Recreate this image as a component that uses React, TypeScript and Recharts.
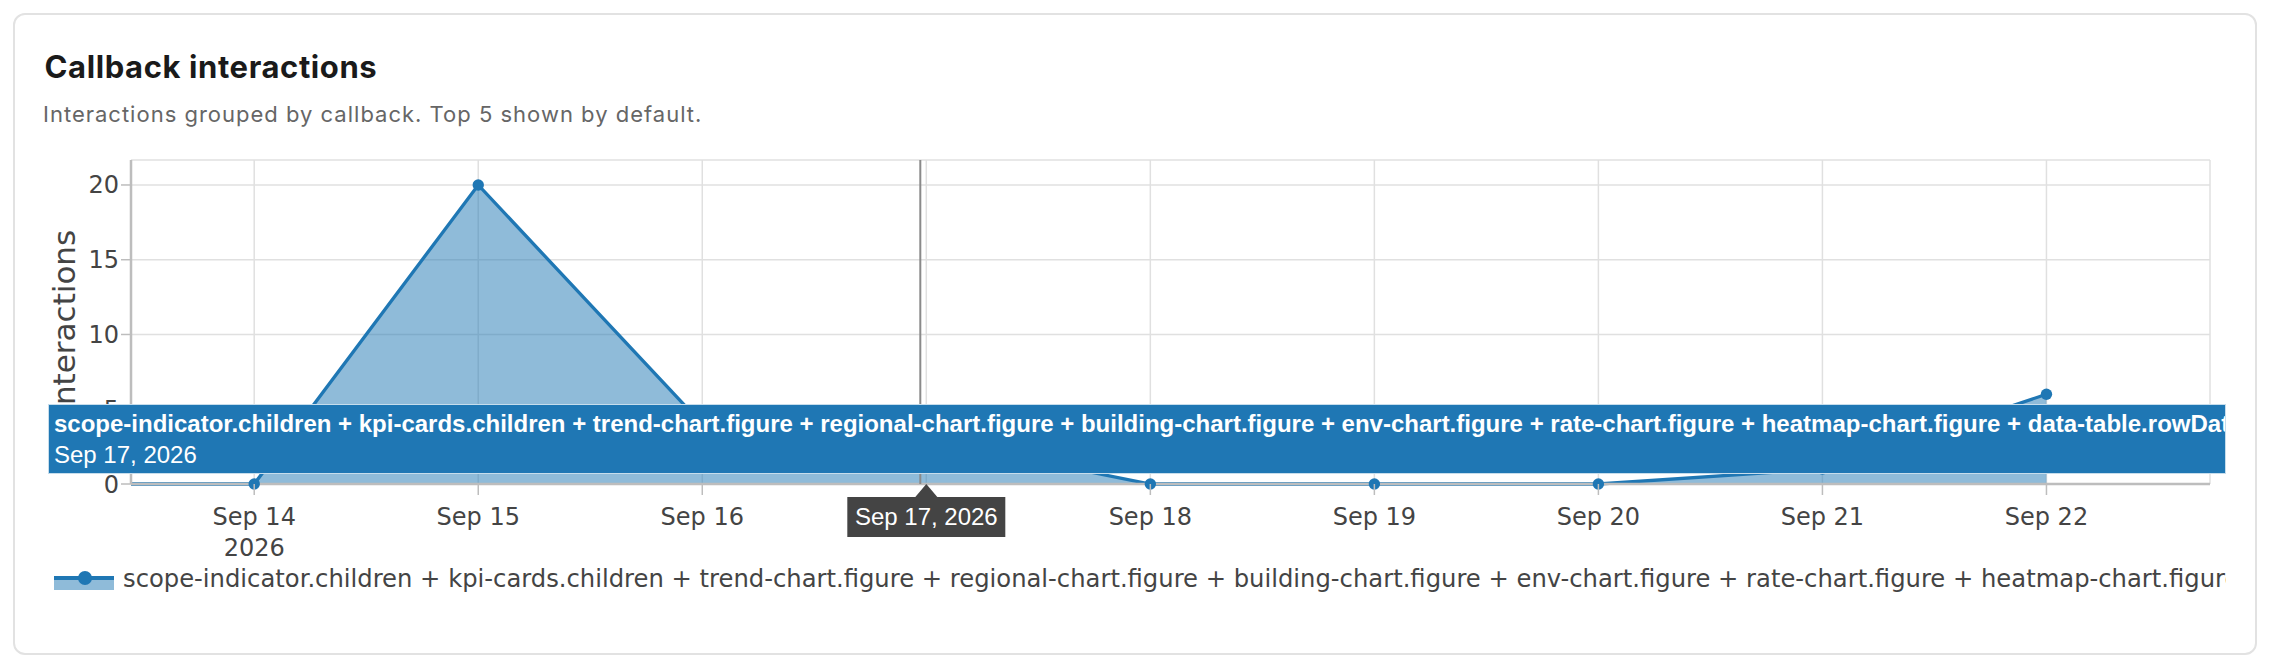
import React from "react";
import {
  AreaChart,
  Area,
  XAxis,
  YAxis,
  CartesianGrid,
  Tooltip,
  Legend,
} from "recharts";

// one point per day in September 2026 (Sep 13 sits just left of the visible range)
const DAYS = [13, 14, 15, 16, 17, 18, 19, 20, 21, 22];
const INTERACTIONS = [0, 0, 20, 4, 3, 0, 0, 0, 1, 6];

const X_TICKS = [14, 15, 16, 17, 18, 19, 20, 21, 22];
const Y_TICKS = [0, 5, 10, 15, 20];
const MONTH = "Sep";
const YEAR = 2026;
const HOVER_DAY = 17;

const SERIES_NAME =
  "scope-indicator.children + kpi-cards.children + trend-chart.figure + regional-chart.figure + building-chart.figure + env-chart.figure + rate-chart.figure + heatmap-chart.figure + data-table.rowData";

const data = DAYS.map((day, i) => ({ day, interactions: INTERACTIONS[i] }));

const BLUE = "#1f77b4";
const AXIS_GRAY = "#bdbdbd";
const TEXT = "#444";
const PLOT_FONT = "'DejaVu Sans', Verdana, sans-serif";
const HOVER_FONT = "'Liberation Sans', Arial, sans-serif";
const X_TICK_SIZE = 11;
const X_TICK_MARGIN = 13;

function DateTick(props: any) {
  const { x, y, payload } = props;
  const v = payload.value;
  // the hover label sits on top of this tick in the original
  if (v === HOVER_DAY) return null;
  const axisY = y - X_TICK_MARGIN - X_TICK_SIZE;
  return (
    <g>
      <line x1={x} x2={x} y1={axisY} y2={axisY + X_TICK_SIZE} stroke={AXIS_GRAY} strokeWidth={1.5} />
      <text
        x={x}
        y={y}
        dy="0.71em"
        textAnchor="middle"
        fill={TEXT}
        fontSize={24}
        fontFamily={PLOT_FONT}
      >
        <tspan x={x}>{`${MONTH} ${v}`}</tspan>
        {v === X_TICKS[0] && (
          <tspan x={x} dy={30.5}>
            {YEAR}
          </tspan>
        )}
      </text>
    </g>
  );
}

function YTitle(props: any) {
  const vb = props.viewBox || { x: 0, y: 0, height: 0 };
  const x = vb.x + 24;
  const y = vb.y + vb.height / 2;
  return (
    <text
      x={x}
      y={y}
      transform={`rotate(-90 ${x} ${y})`}
      textAnchor="middle"
      fill={TEXT}
      fontSize={31}
      fontFamily={PLOT_FONT}
    >
      Interactions
    </text>
  );
}

// spike line + date label under the x axis, like plotly's hover
function SpikeCursor(props: any) {
  const { points, payload } = props;
  if (!points || points.length < 2) return null;
  const x = points[0].x;
  const yTop = points[0].y;
  const yBot = points[1].y;
  const day = payload && payload[0] ? payload[0].payload.day : HOVER_DAY;
  return (
    <g>
      <line x1={x - 6} x2={x - 6} y1={yTop} y2={yBot} stroke="#8a8a8a" strokeWidth={2} />
      <path d={`M${x - 11},${yBot + 13} L${x},${yBot} L${x + 11},${yBot + 13} Z`} fill="#444" />
      <rect x={x - 79} y={yBot + 13} width={158} height={40} fill="#444" />
      <text
        x={x}
        y={yBot + 41}
        textAnchor="middle"
        fill="#fff"
        fontSize={24}
        fontFamily={HOVER_FONT}
      >
        {`${MONTH} ${day}, ${YEAR}`}
      </text>
    </g>
  );
}

function HoverBox({ active, payload }: any) {
  if (!active || !payload || !payload.length) return null;
  const p = payload[0];
  return (
    <div
      style={{
        width: 2178,
        height: 70,
        boxSizing: "border-box",
        background: BLUE,
        border: "1px solid rgba(255,255,255,0.75)",
        padding: "3px 5px",
        overflow: "hidden",
        whiteSpace: "nowrap",
        color: "#fff",
        fontFamily: HOVER_FONT,
        fontSize: 24,
        lineHeight: "31px",
      }}
    >
      <div style={{ fontWeight: 700 }}>{p.name}</div>
      <div>{`${MONTH} ${p.payload.day}, ${YEAR}`}</div>
    </div>
  );
}

function LegendRow({ payload }: any) {
  const item = payload && payload[0];
  if (!item) return null;
  return (
    <div
      style={{
        display: "flex",
        alignItems: "flex-start",
        height: 30,
        width: 2172,
        overflow: "hidden",
        whiteSpace: "nowrap",
      }}
    >
      <svg width={60} height={30} style={{ flex: "none" }}>
        <rect x={0} y={14} width={60} height={12} fill={BLUE} fillOpacity={0.5} />
        <line x1={0} x2={60} y1={14} y2={14} stroke={BLUE} strokeWidth={4} />
        <circle cx={31} cy={14} r={7} fill={BLUE} />
      </svg>
      <span
        style={{
          marginLeft: 9,
          fontFamily: PLOT_FONT,
          fontSize: 24.25,
          lineHeight: "30px",
          color: TEXT,
        }}
      >
        {item.value}
      </span>
    </div>
  );
}

export default function App() {
  return (
    <div style={{ position: "relative", width: 2256, height: 652 }}>
      <div
        style={{
          position: "absolute",
          left: 4.5,
          top: 4.5,
          width: 2244,
          height: 642,
          boxSizing: "border-box",
          border: "2px solid #e2e2e2",
          borderRadius: 12,
          background: "#fff",
        }}
      />
      <div
        style={{
          position: "absolute",
          left: 36.5,
          top: 42.7,
          fontFamily: "Inter, sans-serif",
          fontWeight: 700,
          fontSize: 31,
          letterSpacing: 0.6,
          lineHeight: 1,
          color: "#1a1a1a",
          whiteSpace: "nowrap",
        }}
      >
        Callback interactions
      </div>
      <div
        style={{
          position: "absolute",
          left: 35,
          top: 94.5,
          fontFamily: "Inter, sans-serif",
          fontSize: 22,
          letterSpacing: 1,
          lineHeight: 1,
          color: "#666",
          whiteSpace: "nowrap",
        }}
      >
        Interactions grouped by callback. Top 5 shown by default.
      </div>
      <div style={{ position: "absolute", left: 0, top: 100 }}>
        <AreaChart
          width={2240}
          height={520}
          data={data}
          margin={{ top: 52, right: 38, bottom: 34, left: 43 }}
        >
          <CartesianGrid stroke="#e0e0e0" strokeWidth={1.5} />
          <XAxis
            dataKey="day"
            type="number"
            domain={[13.45, 22.73]}
            allowDataOverflow
            ticks={X_TICKS}
            interval={0}
            height={80}
            tickSize={X_TICK_SIZE}
            tickMargin={X_TICK_MARGIN}
            tick={<DateTick />}
            axisLine={{ stroke: AXIS_GRAY, strokeWidth: 2.5 }}
            tickLine={{ stroke: "none" }}
          />
          <YAxis
            type="number"
            domain={[0, 21.67]}
            ticks={Y_TICKS}
            interval={0}
            width={80}
            tickSize={10}
            tickMargin={2}
            tick={{ fill: TEXT, fontSize: 24, fontFamily: PLOT_FONT }}
            axisLine={{ stroke: AXIS_GRAY, strokeWidth: 2.5 }}
            tickLine={{ stroke: AXIS_GRAY, strokeWidth: 1.5 }}
            label={<YTitle />}
          />
          <Area
            type="linear"
            dataKey="interactions"
            name={SERIES_NAME}
            stroke={BLUE}
            strokeWidth={3.3}
            fill={BLUE}
            fillOpacity={0.5}
            dot={{ r: 5.7, fill: BLUE, fillOpacity: 1, stroke: "none" }}
            activeDot={false}
            isAnimationActive={false}
          />
          <Legend
            content={<LegendRow />}
            wrapperStyle={{ top: 456, left: 46, bottom: "auto", width: 2172, height: 30 }}
          />
          <Tooltip
            active
            defaultIndex={DAYS.indexOf(HOVER_DAY)}
            position={{ x: 40, y: 296 }}
            content={<HoverBox />}
            cursor={<SpikeCursor />}
            isAnimationActive={false}
            wrapperStyle={{ outline: "none" }}
          />
        </AreaChart>
      </div>
    </div>
  );
}
